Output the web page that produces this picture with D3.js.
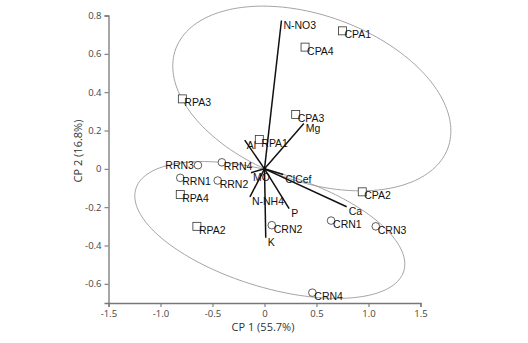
<!DOCTYPE html>
<html>
<head>
<meta charset="utf-8">
<script src="https://d3js.org/d3.v7.min.js"></script>
<style>
  body { margin: 0; background: #fff; }
  .tick text { font-family: "Open Sans", sans-serif; font-size: 9.5px; fill: #444; }
  .lab { font-family: "Liberation Sans", Arial, sans-serif; font-size: 10.5px; fill: #111; }
</style>
</head>
<body>
<svg id="chart" width="528" height="343"></svg>
<script>
// samples (scores on CP1 / CP2)
var sampleNames = ["CPA1","CPA4","RPA3","CPA3","RPA1","RPA4","RPA2","CPA2",
                   "RRN3","RRN4","RRN1","RRN2","CRN2","CRN1","CRN3","CRN4"];
var sampleX = [0.75, 0.39, -0.79, 0.30, -0.05, -0.81, -0.65, 0.94,
               -0.64, -0.41, -0.81, -0.45, 0.07, 0.64, 1.07, 0.46];
var sampleY = [0.72, 0.635, 0.365, 0.283, 0.153, -0.134, -0.30, -0.12,
               0.019, 0.034, -0.047, -0.061, -0.294, -0.27, -0.30, -0.646];
var sampleShape = ["sq","sq","sq","sq","sq","sq","sq","sq",
                   "ci","ci","ci","ci","ci","ci","ci","ci"];

// variables (loadings)
var varNames = ["N-NO3","Mg","Al","MO","ClCef","Ca","P","N-NH4","K"];
var varX = [0.163, 0.378, -0.19, -0.13, 0.18, 0.79, 0.237, -0.14, 0.012];
var varY = [0.774, 0.236, 0.15, -0.02, -0.03, -0.198, -0.208, -0.146, -0.36];

// group ellipses: centre and two semi-axis vectors (data units)
var ellCx = [0.455, 0.051];
var ellCy = [0.367, -0.319];
var ellAx = [1.309, 1.288], ellAy = [-0.258, -0.215];
var ellBx = [-0.273, -0.162], ellBy = [-0.407, -0.285];

var xTicks = [-1.5, -1.0, -0.5, 0, 0.5, 1.0, 1.5];
var xTickLabels = ["-1.5","-1.0","-0.5","0","0.5","1.0","1.5"];
var yTicks = [0.8, 0.6, 0.4, 0.2, 0, -0.2, -0.4, -0.6];
var yTickLabels = ["0.8","0.6","0.4","0.2","0","-0.2","-0.4","-0.6"];

var svg = d3.select("#chart");
var x = d3.scaleLinear().domain([-1.5, 1.5]).range([108.5, 420.5]);
var y = d3.scaleLinear().domain([-0.7, 0.8]).range([303, 15.5]);

// ellipses
var line = d3.line().curve(d3.curveLinearClosed);
for (var e = 0; e < ellCx.length; e++) {
  var pts = d3.range(0, 360, 2).map(function(a) {
    var t = a * Math.PI / 180;
    return [x(ellCx[e] + ellAx[e] * Math.cos(t) + ellBx[e] * Math.sin(t)),
            y(ellCy[e] + ellAy[e] * Math.cos(t) + ellBy[e] * Math.sin(t))];
  });
  svg.append("path").attr("d", line(pts))
    .attr("fill", "none").attr("stroke", "#9a9a9a").attr("stroke-width", 0.9);
}

// axes
var xAxis = svg.append("g").attr("transform", "translate(0," + y(-0.7) + ")")
  .call(d3.axisBottom(x).tickValues(xTicks).tickSize(4).tickPadding(3)
    .tickFormat(function(d, i) { return xTickLabels[i]; }));
var yAxis = svg.append("g").attr("transform", "translate(" + x(-1.5) + ",0)")
  .call(d3.axisLeft(y).tickValues(yTicks).tickSize(4).tickPadding(3)
    .tickFormat(function(d, i) { return yTickLabels[i]; }));
[xAxis, yAxis].forEach(function(g) {
  g.select(".domain").attr("stroke", "#777").attr("stroke-width", 1.3);
  g.selectAll(".tick line").attr("stroke", "#777").attr("stroke-width", 1.1);
});

svg.append("text").attr("x", 263).attr("y", 331).attr("text-anchor", "middle")
  .style("font-family", "Open Sans, sans-serif").style("font-size", "11px").style("fill", "#333")
  .text("CP 1 (55.7%)");
svg.append("text").attr("transform", "translate(82,151) rotate(-90)").attr("text-anchor", "middle")
  .style("font-family", "Open Sans, sans-serif").style("font-size", "11px").style("fill", "#333")
  .text("CP 2 (16.8%)");

// loading vectors
varNames.forEach(function(n, i) {
  svg.append("line")
    .attr("x1", x(0)).attr("y1", y(0)).attr("x2", x(varX[i])).attr("y2", y(varY[i]))
    .attr("stroke", "#111").attr("stroke-width", 1.5);
});

// sample markers
sampleNames.forEach(function(n, i) {
  var cx = x(sampleX[i]), cy = y(sampleY[i]);
  if (sampleShape[i] == "sq") {
    svg.append("rect").attr("x", cx - 4).attr("y", cy - 4).attr("width", 8).attr("height", 8)
      .attr("fill", "#fff").attr("stroke", "#333").attr("stroke-width", 0.8);
  } else {
    svg.append("circle").attr("cx", cx).attr("cy", cy).attr("r", 3.8)
      .attr("fill", "#fff").attr("stroke", "#333").attr("stroke-width", 0.8);
  }
});

// labels
varNames.forEach(function(n, i) {
  svg.append("text").attr("class", "lab")
    .attr("x", x(varX[i]) + 2).attr("y", y(varY[i]) + 8.5).text(n);
});
sampleNames.forEach(function(n, i) {
  var t = svg.append("text").attr("class", "lab").text(n);
  if (n == "RRN3") {
    t.attr("x", x(sampleX[i]) - 4).attr("y", y(sampleY[i]) + 4).attr("text-anchor", "end");
  } else {
    t.attr("x", x(sampleX[i]) + 2).attr("y", y(sampleY[i]) + 7.5);
  }
});
</script>
</body>
</html>
